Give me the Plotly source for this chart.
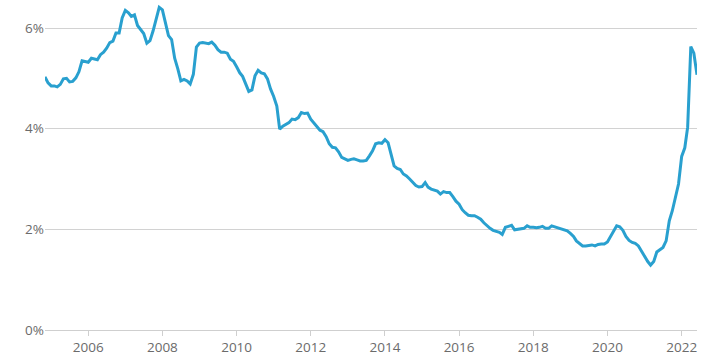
import plotly.graph_objects as go
import pandas as pd

start_month = "2004-11-01"
values = [
    5.03, 4.91, 4.85, 4.85, 4.83, 4.88, 4.99, 5.00, 4.93, 4.94, 5.01, 5.13,
    5.35, 5.34, 5.32, 5.40, 5.38, 5.37, 5.47, 5.52, 5.60, 5.71, 5.74, 5.90,
    5.90, 6.20, 6.35, 6.30, 6.23, 6.26, 6.05, 5.97, 5.89, 5.70, 5.75, 5.94,
    6.20, 6.41, 6.36, 6.08, 5.85, 5.77, 5.40, 5.19, 4.95, 4.98, 4.95, 4.89,
    5.08, 5.62, 5.70, 5.71, 5.70, 5.69, 5.72, 5.66, 5.57, 5.52, 5.52, 5.50,
    5.38, 5.34, 5.23, 5.11, 5.04, 4.89, 4.74, 4.77, 5.05, 5.16, 5.11, 5.09,
    4.99, 4.79, 4.64, 4.45, 3.99, 4.05, 4.08, 4.12, 4.19, 4.18, 4.22, 4.32,
    4.30, 4.31, 4.19, 4.12, 4.05, 3.97, 3.94, 3.84, 3.70, 3.63, 3.62, 3.54,
    3.43, 3.40, 3.37, 3.39, 3.40, 3.38, 3.36, 3.36, 3.37, 3.46, 3.56, 3.70,
    3.72, 3.71, 3.78, 3.72, 3.50, 3.26, 3.21, 3.19, 3.10, 3.06, 3.00, 2.93,
    2.87, 2.84, 2.85, 2.93, 2.84, 2.80, 2.78, 2.76, 2.70, 2.75, 2.73, 2.73,
    2.65, 2.56, 2.50, 2.39, 2.33, 2.28, 2.27, 2.27, 2.24, 2.20, 2.13, 2.07,
    2.02, 1.98, 1.96, 1.94, 1.90, 2.04, 2.06, 2.08, 1.99, 2.00, 2.02, 2.02,
    2.07, 2.04, 2.04, 2.03, 2.04, 2.06, 2.02, 2.02, 2.07, 2.05, 2.02, 2.01,
    1.99, 1.97, 1.92, 1.86, 1.77, 1.72, 1.67, 1.67, 1.68, 1.69, 1.67, 1.70,
    1.71, 1.71, 1.75, 1.86, 1.97, 2.07, 2.05, 1.98, 1.86, 1.78, 1.74, 1.72,
    1.67, 1.57, 1.45, 1.36, 1.29, 1.36, 1.55, 1.59, 1.64, 1.77, 2.17, 2.37,
    2.61, 2.90, 3.45, 3.62, 4.03, 5.63, 5.50, 5.07,
]
y_ticks = [0, 2, 4, 6]
y_tick_labels = ["0%", "2%", "4%", "6%"]

dates = pd.date_range(start=start_month, periods=len(values), freq="MS")

fig = go.Figure()
fig.add_trace(go.Scatter(
    x=dates, y=values, mode="lines",
    line=dict(color="#29a0cf", width=3),
    hoverinfo="skip",
))

fig.update_layout(
    width=717, height=355,
    margin=dict(l=45, r=20, t=0, b=25),
    paper_bgcolor="white", plot_bgcolor="white",
    showlegend=False,
    font=dict(family="Open Sans", size=13.5, color="#6b6b6b"),
)
fig.update_xaxes(
    range=[dates[0], dates[-1]],
    tick0="2006-01-01", dtick="M24", tickformat="%Y",
    showgrid=False, zeroline=False,
    showline=True, linecolor="#cfcfcf", linewidth=1,
    ticks="outside", ticklen=5, tickcolor="#cfcfcf", tickwidth=1,
)
fig.update_yaxes(
    range=[0, 330 / 50.33],
    tickvals=y_ticks, ticktext=y_tick_labels,
    showgrid=True, gridcolor="#d2d2d2", gridwidth=1,
    zeroline=False, showline=False, ticks="",
)

fig.write_html("out.html")
